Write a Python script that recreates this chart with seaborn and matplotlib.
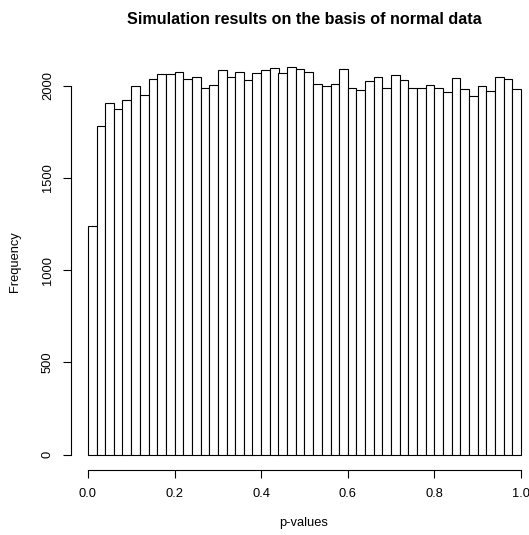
import numpy as np
import pandas as pd
import matplotlib
matplotlib.use('Agg')
import matplotlib.pyplot as plt
import seaborn as sns

# histogram counts, 50 bins of width 0.02 on [0, 1]
counts = [1240, 1783, 1906, 1872, 1920, 1996, 1951, 2037, 2066, 2064,
          2072, 2034, 2045, 1989, 2005, 2086, 2045, 2077, 2030, 2070,
          2083, 2094, 2070, 2102, 2088, 2073, 2007, 2001, 2007, 2090,
          1989, 1974, 2023, 2047, 1989, 2056, 2029, 1985, 1989, 2003,
          1985, 1964, 2041, 1980, 1942, 2001, 1972, 2048, 2034, 1980]
bin_width = 0.02
x_ticks = [0.0, 0.2, 0.4, 0.6, 0.8, 1.0]
y_ticks = [0, 500, 1000, 1500, 2000]

mids = (np.arange(len(counts)) + 0.5) * bin_width
df = pd.DataFrame({'p': mids, 'n': counts})

sns.set_style('white')
plt.rcParams['font.family'] = ['Liberation Sans', 'DejaVu Sans']
plt.rcParams['text.color'] = 'black'
plt.rcParams['axes.labelcolor'] = 'black'
plt.rcParams['xtick.color'] = 'black'
plt.rcParams['ytick.color'] = 'black'

W, H = 529, 535
fig = plt.figure(figsize=(W / 100, H / 100), dpi=100)
# plot region (R style, extends past right edge)
left, right, top, bottom = 70.5, 538.5, 51.4, 470
ax = fig.add_axes([left / W, 1 - bottom / H, (right - left) / W, (bottom - top) / H])

sns.histplot(data=df, x='p', weights='n', binwidth=bin_width, binrange=(0, 1), ax=ax,
             color='white', edgecolor='black', linewidth=0.8, alpha=1)

ax.set_xlim(-0.04, 1.04)
ax.set_ylim(-84, 2186)
for s in ['top', 'right']:
    ax.spines[s].set_visible(False)
ax.spines['left'].set_bounds(0, 2000)
ax.spines['bottom'].set_bounds(0, 1)
for s in ['left', 'bottom']:
    ax.spines[s].set_color('black')
    ax.spines[s].set_linewidth(0.8)

fs = 9.3
ax.set_xticks(x_ticks)
ax.set_xticklabels(['0.0', '0.2', '0.4', '0.6', '0.8', '1.0'])
ax.set_yticks(y_ticks)
ax.set_yticklabels([str(v) for v in y_ticks], rotation=90, va='center')
ax.tick_params(axis='both', direction='out', length=6, width=0.8, color='black',
               labelsize=fs, bottom=True, left=True)
ax.tick_params(axis='x', pad=7)
ax.tick_params(axis='y', pad=6)

ax.set_xlabel('p-values', fontsize=fs)
ax.set_ylabel('Frequency', fontsize=fs)
ax.xaxis.set_label_coords(304 / W, 1 - 523 / H, transform=fig.transFigure)
ax.yaxis.set_label_coords(15 / W, 1 - 262 / H, transform=fig.transFigure)
ax.xaxis.label.set_va('center')
ax.yaxis.label.set_va('center')

fig.text(304 / W, 1 - 20 / H, 'Simulation results on the basis of normal data',
         ha='center', va='center', fontsize=11.6, fontweight='bold')

fig.savefig('out.png', dpi=100)
